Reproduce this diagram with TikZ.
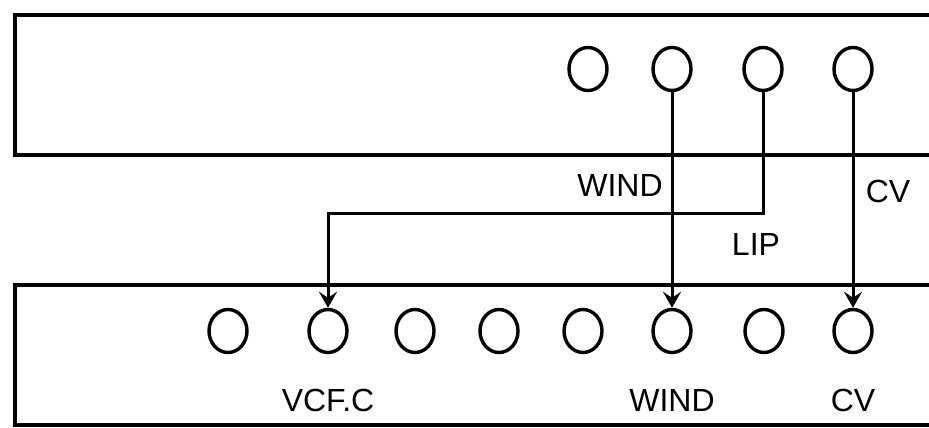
\documentclass[tikz,border=0pt]{standalone}
\usepackage{fontspec}
\setmainfont{Liberation Sans}
\usetikzlibrary{shapes.geometric, arrows.meta, positioning}

\begin{document}
\begin{tikzpicture}[
    x=1pt, y=-1pt,
    node distance=35pt,
    every node/.style={font=\fontsize{32}{36}\selectfont},
    panel/.style={line width=3.6pt},
    hole/.style={ellipse, draw, line width=3.4pt, minimum width=38pt, minimum height=43pt, inner sep=0pt},
    tag/.style={inner sep=0pt},
    arrow/.style={-{Stealth[length=16pt, width=18pt, inset=6pt]}, line width=3pt}
]
\useasboundingbox (0,0) rectangle (929,428);

% Panels
\draw[panel] (929,15) -| (15,155) -- (929,155);
\draw[panel] (929,285) -| (15,425) -- (929,425);

% Upper holes
\node[hole] (t1) at (588,69) {};
\node[hole] (t2) at (672,69) {};
\node[hole] (t3) at (763,69) {};
\node[hole] (t4) at (853,69) {};

% Lower holes
\node[hole] (b1) at (228,331) {};
\node[hole] (b2) at (328,331) {};
\node[hole] (b3) at (415,331) {};
\node[hole] (b4) at (499,331) {};
\node[hole] (b5) at (583,331) {};
\node[hole] (b6) at (672,331) {};
\node[hole] (b7) at (764,331) {};
\node[hole] (b8) at (853,331) {};

% Labels
\node[tag] (windtop) at (620,185) {WIND};
\node[tag] (cvtop) at (888,191) {CV};
\node[tag] (lip) at (756,244) {LIP};
\node[tag, below=of b2] (vcfc) {VCF.C};
\node[tag, below=of b6] (wind) {WIND};
\node[tag, below=of b8] (cv) {CV};

% Arrows
\coordinate (lipturn) at (763,213);
\draw[arrow] (t2) -- (b6);
\draw[arrow] (t3) -- (lipturn) -| (b2);
\draw[arrow] (t4) -- (b8);

\end{tikzpicture}
\end{document}
